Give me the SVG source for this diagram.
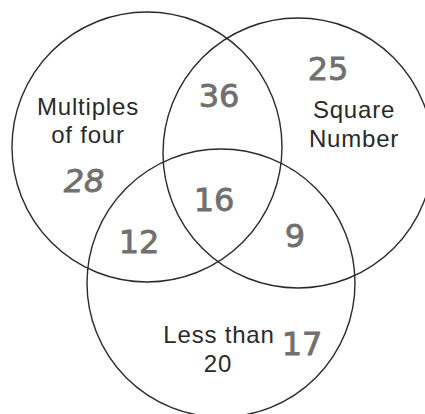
<svg xmlns="http://www.w3.org/2000/svg" width="425" height="414" viewBox="0 0 425 414">
<style>
.c{fill:none;stroke:#2a2a2a;stroke-width:1.4}
.t{font-family:"Liberation Sans",Arial,sans-serif;font-size:24px;fill:#2a2a2a;letter-spacing:0.8px;text-anchor:middle}
.h{font-family:"DejaVu Sans","Liberation Sans",sans-serif;font-size:32px;fill:#707070;text-anchor:middle;stroke:#707070;stroke-width:0.8}
</style>
<rect width="425" height="414" fill="#fff"/>
<g id="circle-multiples"><circle class="c" cx="147" cy="147" r="135"/></g>
<g id="circle-square"><circle class="c" cx="298" cy="153" r="135"/></g>
<g id="circle-less"><circle class="c" cx="221" cy="283" r="134"/></g>
<g id="labels">
<text class="t" x="88" y="115">Multiples</text>
<text class="t" x="88" y="143">of four</text>
<text class="t" x="354" y="118">Square</text>
<text class="t" x="354" y="147">Number</text>
<text class="t" x="219" y="343">Less than</text>
<text class="t" x="218" y="372">20</text>
</g>
<g id="values">
<text class="h" x="219" y="107">36</text>
<text class="h" x="328" y="80">25</text>
<text class="h" x="84" y="192" font-style="italic">28</text>
<text class="h" x="214" y="211">16</text>
<text class="h" x="139" y="253">12</text>
<text class="h" x="295" y="247">9</text>
<text class="h" x="302" y="355">17</text>
</g>
</svg>
